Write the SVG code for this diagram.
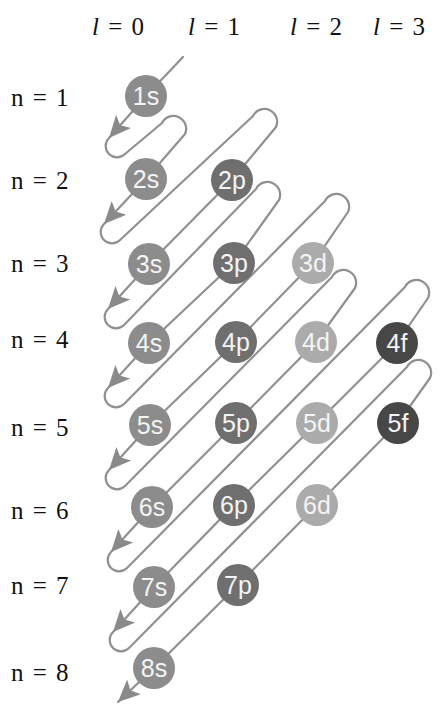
<svg xmlns="http://www.w3.org/2000/svg" xmlns:xlink="http://www.w3.org/1999/xlink" width="442" height="704" viewBox="0 0 442 704">
<style>
.lbl{font-family:"Liberation Serif","Times New Roman",serif;font-size:25px;fill:#111;word-spacing:3px}
.it{font-style:italic}
.orb text{font-family:"Liberation Sans",Arial,sans-serif;font-size:25px;fill:#f4f4f4;text-anchor:middle}
.s{fill:#8c8c8c}.p{fill:#6f6f6f}.d{fill:#ababab}.f{fill:#474747}
.wire{fill:none;stroke:#909090;stroke-width:2.2;stroke-linejoin:round;stroke-linecap:round}
.ah{fill:#8a8a8a}
</style>
<defs>
<path id="arrow" d="M0,0 L-22,-10 L-17,0 L-22,10 Z"/>
</defs>
<rect width="442" height="704" fill="#ffffff"/>
<g id="labels-l">
<text class="lbl" x="92" y="35"><tspan class="it">l</tspan> = 0</text>
<text class="lbl" x="188" y="35"><tspan class="it">l</tspan> = 1</text>
<text class="lbl" x="290" y="35"><tspan class="it">l</tspan> = 2</text>
<text class="lbl" x="373" y="35"><tspan class="it">l</tspan> = 3</text>
</g>
<g id="labels-n">
<text class="lbl" x="11" y="106">n = 1</text>
<text class="lbl" x="11" y="189">n = 2</text>
<text class="lbl" x="11" y="272">n = 3</text>
<text class="lbl" x="11" y="348">n = 4</text>
<text class="lbl" x="11" y="436">n = 5</text>
<text class="lbl" x="11" y="519">n = 6</text>
<text class="lbl" x="11" y="594">n = 7</text>
<text class="lbl" x="11" y="681">n = 8</text>
</g>
<g id="connectors">
<path class="wire" d="M183,57 L146,96 L109,138 A11.3 11.3 0 0 0 125,154 L162,123 A12.75 12.75 0 0 1 185,134 L146,179 L104,224 A11.3 11.3 0 0 0 120,240 L253,116 A12.75 12.75 0 0 1 276,127 L232,180 L149,264 L108,309 A11.3 11.3 0 0 0 124,325 L256,189 A12.75 12.75 0 0 1 279,200 L234,263 L149,343 L108,388 A11.3 11.3 0 0 0 124,404 L325,201 A12.75 12.75 0 0 1 348,212 L313,263 L236,342 L150,425 L109,470 A11.3 11.3 0 0 0 125,486 L332,277 A12.75 12.75 0 0 1 355,288 L316,342 L236,423 L152,507 L111,552 A11.3 11.3 0 0 0 127,568 L405,287 A12.75 12.75 0 0 1 428,298 L397,343 L317,423 L234,505 L154,587 L113,632 A11.3 11.3 0 0 0 129,648 L407,367 A12.75 12.75 0 0 1 430,378 L398,423 L317,505 L238,585 L154,668 L118,702"/>
<use class="ah" xlink:href="#arrow" href="#arrow" transform="translate(109,138) rotate(131.4)"/>
<use class="ah" xlink:href="#arrow" href="#arrow" transform="translate(104,224) rotate(133)"/>
<use class="ah" xlink:href="#arrow" href="#arrow" transform="translate(108,309) rotate(132.3)"/>
<use class="ah" xlink:href="#arrow" href="#arrow" transform="translate(108,388) rotate(132.3)"/>
<use class="ah" xlink:href="#arrow" href="#arrow" transform="translate(109,470) rotate(132.3)"/>
<use class="ah" xlink:href="#arrow" href="#arrow" transform="translate(111,552) rotate(132.3)"/>
<use class="ah" xlink:href="#arrow" href="#arrow" transform="translate(113,632) rotate(132.3)"/>
<use class="ah" xlink:href="#arrow" href="#arrow" transform="translate(118,702) rotate(136.6)"/>
</g>
<g id="o1s" class="orb"><circle class="s" cx="146" cy="96" r="21"/><text x="146" y="105">1s</text></g>
<g id="o2s" class="orb"><circle class="s" cx="146" cy="179" r="21"/><text x="146" y="188">2s</text></g>
<g id="o2p" class="orb"><circle class="p" cx="232" cy="180" r="21"/><text x="232" y="189">2p</text></g>
<g id="o3s" class="orb"><circle class="s" cx="149" cy="264" r="21"/><text x="149" y="273">3s</text></g>
<g id="o3p" class="orb"><circle class="p" cx="234" cy="263" r="21"/><text x="234" y="272">3p</text></g>
<g id="o3d" class="orb"><circle class="d" cx="313" cy="263" r="21"/><text x="313" y="272">3d</text></g>
<g id="o4s" class="orb"><circle class="s" cx="149" cy="343" r="21"/><text x="149" y="352">4s</text></g>
<g id="o4p" class="orb"><circle class="p" cx="236" cy="342" r="21"/><text x="236" y="351">4p</text></g>
<g id="o4d" class="orb"><circle class="d" cx="316" cy="342" r="21"/><text x="316" y="351">4d</text></g>
<g id="o4f" class="orb"><circle class="f" cx="397" cy="343" r="21"/><text x="397" y="352">4f</text></g>
<g id="o5s" class="orb"><circle class="s" cx="150" cy="425" r="21"/><text x="150" y="434">5s</text></g>
<g id="o5p" class="orb"><circle class="p" cx="236" cy="423" r="21"/><text x="236" y="432">5p</text></g>
<g id="o5d" class="orb"><circle class="d" cx="317" cy="423" r="21"/><text x="317" y="432">5d</text></g>
<g id="o5f" class="orb"><circle class="f" cx="398" cy="423" r="21"/><text x="398" y="432">5f</text></g>
<g id="o6s" class="orb"><circle class="s" cx="152" cy="507" r="21"/><text x="152" y="516">6s</text></g>
<g id="o6p" class="orb"><circle class="p" cx="234" cy="505" r="21"/><text x="234" y="514">6p</text></g>
<g id="o6d" class="orb"><circle class="d" cx="317" cy="505" r="21"/><text x="317" y="514">6d</text></g>
<g id="o7s" class="orb"><circle class="s" cx="154" cy="587" r="21"/><text x="154" y="596">7s</text></g>
<g id="o7p" class="orb"><circle class="p" cx="238" cy="585" r="21"/><text x="238" y="594">7p</text></g>
<g id="o8s" class="orb"><circle class="s" cx="154" cy="668" r="21"/><text x="154" y="677">8s</text></g>
</svg>
